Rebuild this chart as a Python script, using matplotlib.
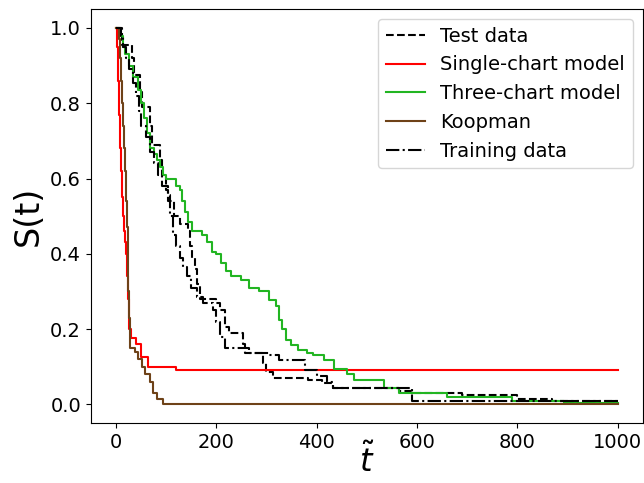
import matplotlib
matplotlib.use("Agg")
import matplotlib.pyplot as plt

# survival curves (step, where='post')
test_t = [0, 12, 32, 36, 48, 52, 68, 72, 88, 92, 100, 104, 115, 127, 143, 148, 152, 157, 162, 167,
          200, 207, 217, 225, 253, 258, 293, 300, 313, 382, 410, 432, 565, 590, 690, 800, 870, 1000]
test_s = [1.0, 0.955, 0.92, 0.875, 0.83, 0.79, 0.74, 0.69, 0.65, 0.61, 0.57, 0.54, 0.50, 0.48, 0.46, 0.42, 0.39, 0.36, 0.32, 0.28,
          0.27, 0.25, 0.205, 0.19, 0.16, 0.135, 0.11, 0.085, 0.07, 0.064, 0.056, 0.042, 0.035, 0.03, 0.024, 0.013, 0.008, 0.008]

single_t = [0, 2, 4, 6, 8, 10, 12, 14, 16, 18, 20, 22, 24, 26, 30, 40, 50, 64, 120, 1000]
single_s = [1.0, 0.95, 0.86, 0.77, 0.68, 0.62, 0.55, 0.50, 0.46, 0.43, 0.40, 0.34, 0.28, 0.20, 0.175, 0.16, 0.125, 0.10, 0.09, 0.09]

three_t = [0, 8, 14, 18, 26, 34, 44, 51, 56, 62, 68, 76, 82, 88, 94, 100, 120, 127, 132, 137, 144, 151,
           171, 181, 191, 200, 210, 220, 230, 250, 266, 286, 306, 320, 326, 332, 340, 350, 362, 380, 392,
           415, 435, 461, 475, 535, 565, 660, 790, 893, 1000]
three_s = [1.0, 0.98, 0.95, 0.93, 0.90, 0.87, 0.835, 0.80, 0.76, 0.72, 0.68, 0.665, 0.65, 0.63, 0.61, 0.60, 0.58, 0.57, 0.54, 0.51, 0.485, 0.46,
           0.45, 0.43, 0.405, 0.40, 0.375, 0.355, 0.34, 0.33, 0.31, 0.30, 0.277, 0.26, 0.225, 0.20, 0.17, 0.157, 0.145, 0.135, 0.13,
           0.117, 0.095, 0.08, 0.064, 0.043, 0.03, 0.02, 0.01, 0.003, 0.003]

koop_t = [0, 6, 8, 10, 12, 14, 16, 18, 20, 22, 24, 25, 26, 28, 38, 44, 52, 58, 68, 74, 82, 94, 1000]
koop_s = [1.0, 0.97, 0.92, 0.86, 0.80, 0.74, 0.68, 0.62, 0.54, 0.47, 0.40, 0.30, 0.23, 0.15, 0.14, 0.12, 0.10, 0.08, 0.06, 0.03, 0.015, 0.0, 0.0]

train_t = [0, 10, 14, 20, 26, 34, 40, 46, 51, 61, 68, 76, 84, 92, 104, 108, 113, 120, 127, 134, 141, 150,
           161, 173, 193, 200, 207, 217, 266, 306, 326, 376, 400, 420, 432, 590, 1000]
train_s = [1.0, 0.98, 0.95, 0.92, 0.89, 0.855, 0.82, 0.78, 0.74, 0.71, 0.67, 0.64, 0.61, 0.58, 0.555, 0.50, 0.45, 0.42, 0.39, 0.365, 0.34, 0.31,
           0.285, 0.27, 0.25, 0.22, 0.18, 0.15, 0.135, 0.13, 0.117, 0.09, 0.075, 0.06, 0.043, 0.01, 0.01]

fig = plt.figure(figsize=(6.44, 4.83), dpi=100)
ax = fig.add_axes([0.141, 0.124, 0.857, 0.857])

ax.step(test_t, test_s, where='post', color='black', linestyle='--', lw=1.5, label='Test data')
ax.step(single_t, single_s, where='post', color='red', lw=1.5, label='Single-chart model')
ax.step(three_t, three_s, where='post', color='#22b522', lw=1.5, label='Three-chart model')
ax.step(koop_t, koop_s, where='post', color='#6e4218', lw=1.5, label='Koopman')
ax.step(train_t, train_s, where='post', color='black', linestyle='-.', lw=1.5, label='Training data')

ax.set_xlabel(r'$\tilde{t}$', fontsize=23, labelpad=-6)
ax.set_ylabel('S(t)', fontsize=24)
ax.tick_params(labelsize=14)
ax.legend(loc='upper right', fontsize=14)

fig.savefig('out.png', dpi=100)
